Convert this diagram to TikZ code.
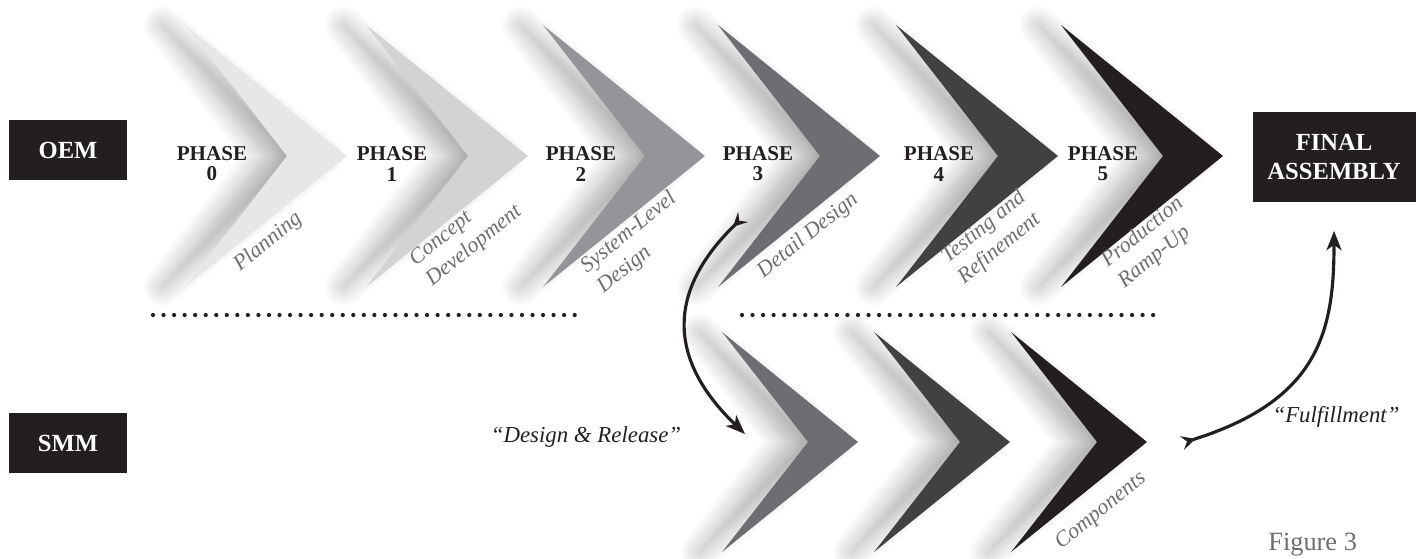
\documentclass[tikz,border=0pt]{standalone}
\usepackage{fontspec}
\setmainfont{Liberation Serif}
\usetikzlibrary{arrows.meta, positioning, shadows.blur}

\definecolor{k10}{HTML}{E6E7E8}
\definecolor{k20}{HTML}{D1D3D4}
\definecolor{k50}{HTML}{939598}
\definecolor{k70}{HTML}{6D6E71}
\definecolor{k90}{HTML}{414042}
\definecolor{k100}{HTML}{231F20}

\begin{document}
\begin{tikzpicture}[x=0.02cm, y=-0.02cm,
    tag/.style={fill=k100, text=white, align=center, inner sep=0pt,
      font=\bfseries\fontsize{14}{16}\selectfont, minimum width=2.36cm, minimum height=1.2cm},
    phase/.style={text=k100, align=center, inner sep=0pt, font=\bfseries\fontsize{12}{11.5}\selectfont},
    stage/.style={text=k70, align=left, inner sep=0pt, rotate=39, font=\itshape\fontsize{12.5}{15}\selectfont},
    quote/.style={text=k100, inner sep=0pt, anchor=base, font=\itshape\fontsize{13}{15}\selectfont},
    chev/.style={blur shadow={shadow xshift=-0.45cm, shadow yshift=0cm, shadow blur radius=0.4cm,
      shadow blur steps=16, shadow opacity=32}},
    dots/.style={k100, line width=2.4pt, line cap=round, dash pattern=on 0pt off 6pt},
    link/.style={k100, line width=1.8pt,
      {Stealth[reversed, length=8pt, width=8pt, inset=3pt]}-{Stealth[length=11pt, width=8.5pt, inset=3pt]}}]
  \useasboundingbox (0,0) rectangle (1419,558);

  % OEM phases
  \fill[chev, fill=k10]  (347,156)  -- ++(-162,-131) -- ++(102,131) -- ++(-102,131) -- cycle;
  \fill[chev, fill=k20]  (528,156)  -- ++(-162,-131) -- ++(102,131) -- ++(-102,131) -- cycle;
  \fill[chev, fill=k50]  (705,156)  -- ++(-162,-131) -- ++(102,131) -- ++(-102,131) -- cycle;
  \fill[chev, fill=k70]  (880,156)  -- ++(-162,-131) -- ++(102,131) -- ++(-102,131) -- cycle;
  \fill[chev, fill=k90]  (1058,156) -- ++(-162,-131) -- ++(102,131) -- ++(-102,131) -- cycle;
  \fill[chev, fill=k100] (1223,156) -- ++(-162,-131) -- ++(102,131) -- ++(-102,131) -- cycle;

  % SMM steps
  \fill[chev, fill=k70]  (858,442)  -- ++(-136,-110) -- ++(86,110) -- ++(-86,110) -- cycle;
  \fill[chev, fill=k90]  (1010,442) -- ++(-136,-110) -- ++(86,110) -- ++(-86,110) -- cycle;
  \fill[chev, fill=k100] (1147,442) -- ++(-136,-110) -- ++(86,110) -- ++(-86,110) -- cycle;

  \node[tag] (oem) at (68,150) {OEM};
  \node[tag, below=4.65cm of oem] (smm) {SMM};
  \node[tag, minimum width=3.26cm, minimum height=1.82cm] (final) at (1334,157) {FINAL\\ASSEMBLY};

  \node[phase] (p0) at (212,164) {PHASE\\0};
  \node[phase] (p1) at (392,164) {PHASE\\1};
  \node[phase] (p2) at (581,164) {PHASE\\2};
  \node[phase] (p3) at (758,164) {PHASE\\3};
  \node[phase] (p4) at (939,164) {PHASE\\4};
  \node[phase] (p5) at (1103,164) {PHASE\\5};

  \node[stage] (plan) at (268,242) {Planning};
  \node[stage] (concept) at (466,236) {Concept\\Development};
  \node[stage] (system) at (637,243) {System-Level\\Design};
  \node[stage] (detail) at (808,236) {Detail Design};
  \node[stage] (testing) at (992,238) {Testing and\\Refinement};
  \node[stage] (ramp) at (1151,243) {Production\\Ramp-Up};
  \node[stage] (comp) at (1101,511) {Components};

  % split between the two rows
  \draw[dots] (153,315) -- (583,315);
  \draw[dots] (742,315) -- (1162,315);

  \coordinate (p3-link) at (743,217);
  \coordinate (s1-in) at (745,434);
  \coordinate (s3-out) at (1182,443);

  \draw[link] (p3-link) .. controls (666,292) and (668,360) .. (s1-in);
  \draw[link, shorten >=0.56cm] (s3-out) .. controls (1320,400) and (1334,330) .. (final.south);

  \node[quote] (release) at (586,442) {“Design \& Release”};
  \node[quote] (fulfil) at (1336,422) {“Fulfillment”};

  \node[anchor=base west, inner sep=0pt, text=k70, font=\fontsize{15}{15}\selectfont] (fig) at (1268,550) {Figure 3};
\end{tikzpicture}
\end{document}
